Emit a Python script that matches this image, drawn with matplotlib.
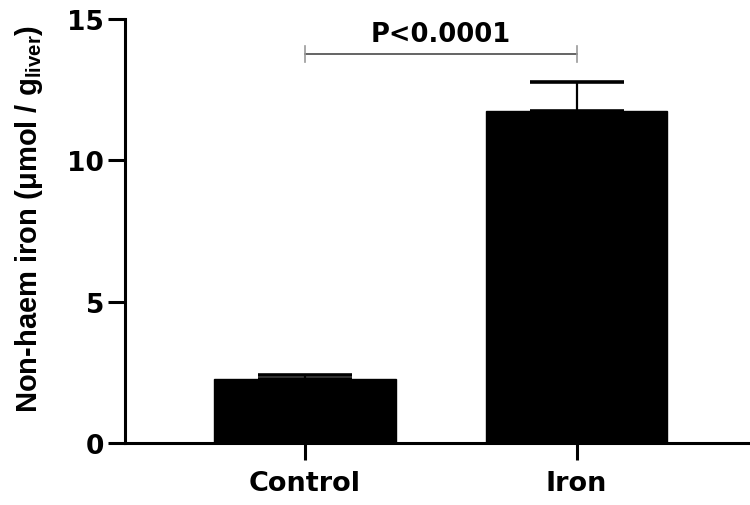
import matplotlib
matplotlib.use("Agg")
import matplotlib.pyplot as plt

plt.rcParams['font.family'] = ['DejaVu Sans']
plt.rcParams['font.weight'] = 'bold'
plt.rcParams['mathtext.fontset'] = 'custom'
plt.rcParams['mathtext.rm'] = 'Liberation Sans:bold'
plt.rcParams['mathtext.it'] = 'Liberation Sans:bold'
plt.rcParams['mathtext.bf'] = 'Liberation Sans:bold'

# Data
groups = ['Control', 'Iron']
means = [2.26, 11.76]
sems = [0.16, 1.02]
y_ticks = [0, 5, 10, 15]
p_label = 'P<0.0001'
bracket_y = 13.76

fig = plt.figure(figsize=(7.5, 5.06), dpi=100)
ax = fig.add_axes([0.166, 0.1225, 0.834, 0.838])

x = list(range(len(groups)))
ax.bar(x, means, width=0.667, color='black', edgecolor='black', zorder=2)
ax.errorbar(x, means, yerr=[[0] * len(sems), sems], fmt='none', ecolor='black',
            elinewidth=1.6, capsize=34, capthick=2.6, zorder=1)

# significance bracket
ax.plot([0, 1], [bracket_y, bracket_y], color='#3a3a3a', lw=1.1, zorder=3)
for xi in x:
    ax.plot([xi, xi], [bracket_y - 0.28, bracket_y + 0.28], color='#9a9a9a', lw=1.2, zorder=3)
ax.text(0.5, bracket_y + 0.46, p_label, ha='center', va='baseline', fontsize=18.5,
        fontweight='bold', family='DejaVu Sans')

ax.set_xlim(-0.665, 1.639)
ax.set_ylim(0, 15)
ax.set_yticks(y_ticks)
ax.set_xticks(x)
ax.set_xticklabels(groups, fontsize=19.5, fontweight='bold', family='DejaVu Sans')
ax.set_yticklabels([str(t) for t in y_ticks], fontsize=19, fontweight='bold',
                   family='DejaVu Sans')

for side in ['top', 'right']:
    ax.spines[side].set_visible(False)
for side in ['left', 'bottom']:
    ax.spines[side].set_linewidth(2.2)
ax.tick_params(axis='both', length=12.5, width=2.2, direction='out')
ax.tick_params(axis='y', pad=2)
ax.tick_params(axis='x', pad=7)

ax.set_ylabel('Non-haem iron (μmol / g$_{\\mathregular{liver}}$)', fontsize=21,
              fontweight='bold', family='Liberation Sans')
ax.yaxis.set_label_coords(-0.127, 0.53)

fig.savefig('out.png', dpi=100)
